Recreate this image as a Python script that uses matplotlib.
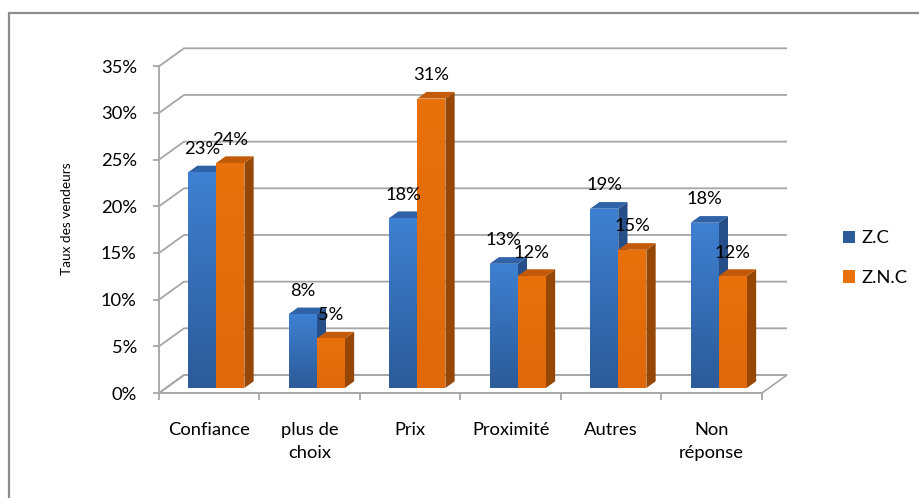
import numpy as np
import matplotlib
matplotlib.use("Agg")
import matplotlib.pyplot as plt
from matplotlib.patches import Polygon, Patch, Rectangle
from matplotlib.colors import LinearSegmentedColormap
from matplotlib.ticker import PercentFormatter

plt.rcParams['font.family'] = ['Lato', 'DejaVu Sans']

# survey data: share of sellers per reason
categories = ["Confiance", "plus de\nchoix", "Prix", "Proximité", "Autres", "Non\nréponse"]
zc = [0.231, 0.079, 0.182, 0.133, 0.192, 0.177]
znc = [0.241, 0.053, 0.310, 0.120, 0.148, 0.120]
series_names = ["Z.C", "Z.N.C"]
yticks = [0.0, 0.05, 0.10, 0.15, 0.20, 0.25, 0.30, 0.35]

# oblique "3D" look: depth offset of the back wall in data units
DX, DY = 0.249, 0.0193
D0, D1 = 0.28, 0.65          # bar depth range (front, back)
BAR_W, GAP = 0.28, 0.22
GRID = "#a6a6a6"
FS = 13.2

face_cols = [("#3e80d1", "#2c5b99"), ("#e8710c", "#df690a")]
top_cols = ["#2f62a6", "#c25a08"]
side_cols = ["#264f89", "#974705"]


def proj(x, v, d):
    return (x + d * DX, v + d * DY)


fig = plt.figure(figsize=(9.2, 4.98), dpi=100)
W, H = 920, 498
ax = fig.add_axes([159 / W, (H - 393) / H, 603 / W, 326.7 / H])
ax.set_xlim(0, 6)
ax.set_ylim(0, 0.35)
ax.patch.set_visible(False)

# outer chart frame
fig.add_artist(Rectangle((9 / W, -0.2), 1.2, 1.2 - 13 / H, transform=fig.transFigure,
                         fill=False, edgecolor="#8c8c8c", linewidth=1.6))

# floor
floor = [proj(0, 0, 0), proj(6, 0, 0), proj(6, 0, 1), proj(0, 0, 1)]
ax.add_patch(Polygon(floor, closed=True, facecolor="white", edgecolor=GRID,
                     linewidth=1.2, clip_on=False, zorder=1))

# side wall diagonals and back wall gridlines
for v in yticks:
    pts = [proj(0, v, 0), proj(0, v, 1), proj(6, v, 1)]
    ax.plot([p[0] for p in pts], [p[1] for p in pts], color=GRID, lw=1.3,
            clip_on=False, zorder=1, solid_capstyle="butt")

# bars
for i in range(len(categories)):
    for s, vals in enumerate([zc, znc]):
        v = vals[i]
        x0 = i + GAP + s * BAR_W
        x1 = x0 + BAR_W
        front = [proj(x0, 0, D0), proj(x1, 0, D0), proj(x1, v, D0), proj(x0, v, D0)]
        top = [proj(x0, v, D0), proj(x1, v, D0), proj(x1, v, D1), proj(x0, v, D1)]
        side = [proj(x1, 0, D0), proj(x1, 0, D1), proj(x1, v, D1), proj(x1, v, D0)]
        z = 3 + i * 2 + s
        ax.add_patch(Polygon(side, closed=True, facecolor=side_cols[s], edgecolor="none",
                             clip_on=False, zorder=z))
        ax.add_patch(Polygon(top, closed=True, facecolor=top_cols[s], edgecolor="none",
                             clip_on=False, zorder=z))
        fp = Polygon(front, closed=True, facecolor="none", edgecolor="none",
                     clip_on=False, zorder=z)
        ax.add_patch(fp)
        cmap = LinearSegmentedColormap.from_list("g", [face_cols[s][1], face_cols[s][0]])
        im = ax.imshow(np.linspace(0, 1, 64).reshape(-1, 1), cmap=cmap, origin="lower",
                       aspect="auto", zorder=z,
                       extent=[front[0][0], front[1][0], front[0][1], front[2][1]])
        im.set_clip_path(fp)
        # value label
        lx, ly = proj((x0 + x1) / 2, v, D0)
        ax.text(lx, ly + 0.025, f"{v:.0%}", ha="center", va="center",
                fontsize=FS, color="black", zorder=30)

ax.set_xlim(0, 6)
ax.set_ylim(0, 0.35)

# axes: front spines with ticks
for sp in ["top", "right"]:
    ax.spines[sp].set_visible(False)
for sp in ["left", "bottom"]:
    ax.spines[sp].set_color(GRID)
    ax.spines[sp].set_linewidth(1.3)
    ax.spines[sp].set_zorder(2.5)
ax.set_yticks(yticks)
ax.yaxis.set_major_formatter(PercentFormatter(1.0, decimals=0))
ax.tick_params(axis="y", direction="out", length=4.5, width=1.3, color=GRID,
               pad=11.5, labelsize=FS, labelcolor="black")
ax.set_xticks(range(7))
ax.set_xticklabels([])
ax.set_xticks(np.arange(6) + 0.5, minor=True)
ax.set_xticklabels(categories, minor=True, fontsize=FS, linespacing=1.55, va="top")
ax.tick_params(axis="x", which="major", direction="out", length=5, width=1.3, color=GRID)
ax.tick_params(axis="x", which="minor", length=0, pad=21, labelcolor="black")

fig.text(67 / W, 1 - 219 / H, "Taux des vendeurs", rotation=90, ha="center", va="center",
         fontsize=9.8)

handles = [Patch(facecolor=face_cols[0][1], label=series_names[0]),
           Patch(facecolor=face_cols[1][0], label=series_names[1])]
fig.legend(handles=handles, loc="center left", bbox_to_anchor=(843 / W, 1 - 258 / H),
           frameon=False, fontsize=FS, handlelength=0.65, handleheight=0.65,
           handletextpad=0.35, labelspacing=1.3, borderaxespad=0, borderpad=0)

fig.savefig("out.png", dpi=100)
